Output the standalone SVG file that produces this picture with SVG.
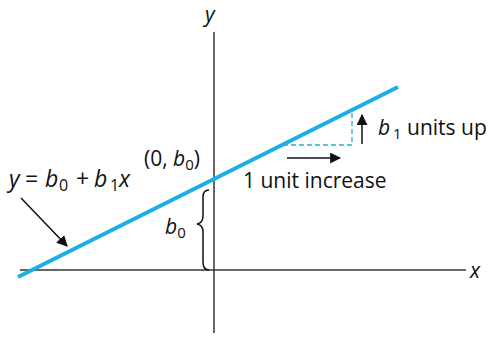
<svg xmlns="http://www.w3.org/2000/svg" width="488" height="337" viewBox="0 0 488 337">
<defs>
<style>
text{font-family:"Open Sans","Liberation Sans",sans-serif;font-size:21px;fill:#111}
.i{font-style:italic}
.s{font-size:15px}
.m{font-size:23px}
.ms{font-size:16px}
.ax{stroke:#333;stroke-width:1.5;fill:none}
.k{stroke:#111;stroke-width:1.5;fill:none}
</style>
<marker id="ah2" viewBox="0 0 10 10" refX="9" refY="5" markerWidth="11" markerHeight="11" markerUnits="userSpaceOnUse" orient="auto"><path d="M0,0 L10,5 L0,10 z" fill="#111"/></marker>
</defs>
<g id="axes">
<line class="ax" x1="214" y1="32" x2="214" y2="333"/>
<line class="ax" x1="20" y1="270" x2="466" y2="270"/>
<text class="i" x="205" y="22">y</text>
<text class="i" x="470" y="278">x</text>
</g>
<g id="regression-line">
<line x1="18" y1="277" x2="398" y2="87" stroke="#1aaee6" stroke-width="4"/>
</g>
<g id="connectors">
<path d="M283,145 H352 V111" stroke="#1aaee6" stroke-width="1.3" stroke-dasharray="5,3" fill="none"/>
<line class="k" x1="287" y1="158" x2="340" y2="158" marker-end="url(#ah2)"/>
<line class="k" x1="362" y1="144" x2="362" y2="115" marker-end="url(#ah2)"/>
<line class="k" x1="21" y1="198" x2="67" y2="246" marker-end="url(#ah2)"/>
<path class="k" d="M209,190 Q203,190 203,197 V216 Q203,223 197,224 Q203,225 203,232 V262 Q203,270 209,270" stroke-width="1.2"/>
</g>
<g id="labels">
<text x="144" y="166">(0, <tspan class="i">b</tspan><tspan class="s" dy="4">0</tspan><tspan dy="-4">)</tspan></text>
<text y="187" class="m"><tspan class="i" x="9">y</tspan><tspan x="25">=</tspan><tspan class="i" x="45">b</tspan><tspan class="ms" x="59" dy="4">0</tspan><tspan x="76" dy="-4">+</tspan><tspan class="i" x="94">b</tspan><tspan class="ms" x="110" dy="4">1</tspan><tspan class="i" x="119" dy="-4">x</tspan></text>
<text x="165" y="234"><tspan class="i">b</tspan><tspan class="s" dy="4">0</tspan></text>
<text x="243" y="188">1 unit increase</text>
<text x="378" y="135"><tspan class="i">b</tspan><tspan class="s" x="393" dy="4">1</tspan><tspan x="407" dy="-4">units up</tspan></text>
</g>
</svg>
